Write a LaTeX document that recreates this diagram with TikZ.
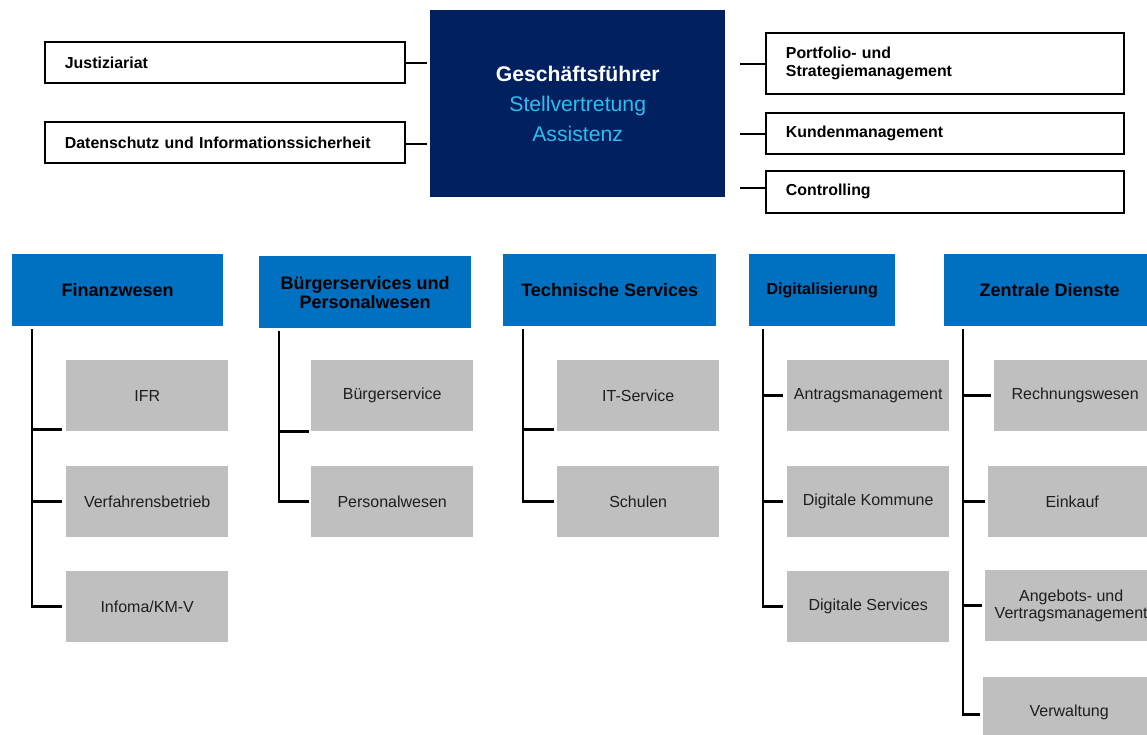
\documentclass[tikz,border=0pt]{standalone}
\usepackage{fontspec}
\setmainfont{Liberation Sans}
\definecolor{navy}{RGB}{0,32,96}
\definecolor{hdrblue}{RGB}{0,112,192}
\definecolor{boxgray}{RGB}{191,191,191}
\definecolor{lblue}{RGB}{45,190,240}
\definecolor{txtgray}{RGB}{30,30,30}
\begin{document}
\begin{tikzpicture}[x=1pt,y=-1pt,
  topbox/.style={draw=black, line width=1.8pt, fill=white, anchor=north west,
    minimum height=41pt, inner xsep=20pt, inner ysep=0pt, text width=#1,
    align=left, font=\fontsize{15.9}{18}\selectfont\bfseries},
  hdr/.style={fill=hdrblue, anchor=north west, minimum width=211pt,
    minimum height=72pt, inner sep=0pt, align=center,
    font=\fontsize{18}{19}\selectfont\bfseries},
  sub/.style={fill=boxgray, anchor=north west, minimum width=162pt,
    minimum height=71pt, inner sep=0pt, align=center, text=txtgray,
    font=\fontsize{16}{16.5}\selectfont},
  conn/.style={draw=black, line width=2.6pt},
  tconn/.style={draw=black, line width=2pt}
]
\useasboundingbox (0,0) rectangle (1147,735);
\clip (0,0) rectangle (1147,735);

% top level
\node[fill=navy, anchor=north west, minimum width=295pt, minimum height=187pt,
  inner sep=0pt, align=center, font=\fontsize{21.2}{30}\selectfont]
  (gf) at (430,10) {\textcolor{white}{\bfseries Geschäftsführer}\\
  \textcolor{lblue}{Stellvertretung}\\ \textcolor{lblue}{Assistenz}};

\node[topbox=320pt] (just) at (44,41) {Justiziariat};
\node[topbox=320pt] (dsi) at (44,121) {Datenschutz und Informationssicherheit};
\node[topbox=318pt, minimum height=61pt] (port) at (765,32) {Portfolio- und\\Strategiemanagement};
\node[topbox=318pt] (kund) at (765,112) {Kundenmanagement};
\node[topbox=318pt, minimum height=42pt] (ctrl) at (765,170) {Controlling};

\draw[tconn] ([yshift=-0.5pt]just.east) -- ++(21,0);
\draw[tconn] ([yshift=-1.5pt]dsi.east) -- ++(21,0);
\draw[tconn] ([yshift=-0.5pt]port.west) -- ++(-25,0);
\draw[tconn] ([yshift=-0.5pt]kund.west) -- ++(-25,0);
\draw[tconn] ([yshift=4pt]ctrl.west) -- ++(-25,0);

% headers
\node[hdr] (fin) at (12,254) {Finanzwesen};
\node[hdr, minimum width=212pt] (bue) at (259,256) {Bürgerservices und\\Personalwesen};
\node[hdr, minimum width=213pt] (tech) at (503,254) {Technische Services};
\node[hdr, minimum width=146pt, font=\fontsize{16}{18}\selectfont\bfseries] (digi) at (749,254) {Digitalisierung};
\node[hdr] (zen) at (944,254) {Zentrale Dienste};

% Finanzwesen
\node[sub] (ifr) at (66,360) {IFR};
\node[sub] (verf) at (66,466) {Verfahrensbetrieb};
\node[sub] (info) at (66,571) {Infoma/KM-V};
% Buergerservices
\node[sub] (bs) at (311,360) {Bürgerservice};
\node[sub] (pw) at (311,466) {Personalwesen};
% Technische Services
\node[sub] (its) at (557,360) {IT-Service};
\node[sub] (sch) at (557,466) {Schulen};
% Digitalisierung
\node[sub] (ant) at (787,360) {Antragsmanagement};
\node[sub] (dk) at (787,466) {Digitale Kommune};
\node[sub] (ds) at (787,571) {Digitale Services};
% Zentrale Dienste
\node[sub] (rw) at (994,360) {Rechnungswesen};
\node[sub, minimum width=168pt] (ek) at (988,466) {Einkauf};
\node[sub, minimum width=172pt] (avm) at (985,570) {Angebots- und\\Vertragsmanagement};
\node[sub, minimum width=172pt] (vw) at (983,677) {Verwaltung};

% connectors Finanzwesen
\coordinate (finT) at ([xshift=20pt]fin.south west);
\draw[conn] ([yshift=-3pt]finT) |- ([xshift=-4pt]info.west);
\draw[conn] ([yshift=2pt]ifr.south west -| finT) -- ([xshift=-4pt,yshift=2pt]ifr.south west);
\draw[conn] (verf.west -| finT) -- ([xshift=-4pt]verf.west);
% Buerger
\coordinate (bueT) at ([xshift=20pt]bue.south west);
\draw[conn] ([yshift=-3pt]bueT) |- ([xshift=-2pt]pw.west);
\draw[conn] (bs.south west -| bueT) -- ([xshift=-2pt]bs.south west);
% Technik
\coordinate (techT) at ([xshift=20pt]tech.south west);
\draw[conn] ([yshift=-3pt]techT) |- ([xshift=-3pt]sch.west);
\draw[conn] ([yshift=2pt]its.south west -| techT) -- ([xshift=-3pt,yshift=2pt]its.south west);
% Digitalisierung
\coordinate (digiT) at ([xshift=14pt]digi.south west);
\draw[conn] ([yshift=-3pt]digiT) |- ([xshift=-4pt]ds.west);
\draw[conn] (ant.west -| digiT) -- ([xshift=-4pt]ant.west);
\draw[conn] (dk.west -| digiT) -- ([xshift=-4pt]dk.west);
% Zentrale
\coordinate (zenT) at ([xshift=19pt]zen.south west);
\draw[conn] ([yshift=-3pt]zenT) |- ([xshift=-3pt,yshift=-1.5pt]vw.west);
\draw[conn] (rw.west -| zenT) -- ([xshift=-3pt]rw.west);
\draw[conn] (ek.west -| zenT) -- ([xshift=-3pt]ek.west);
\draw[conn] (avm.west -| zenT) -- ([xshift=-3pt]avm.west);
\end{tikzpicture}
\end{document}
